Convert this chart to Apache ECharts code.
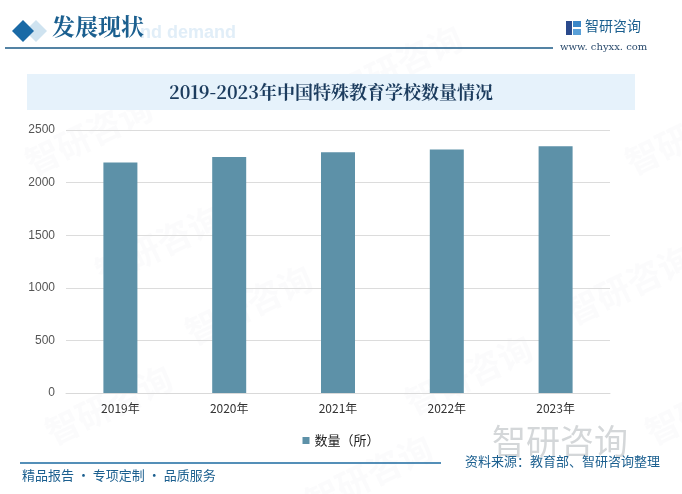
<!DOCTYPE html>
<html><head><meta charset="utf-8">
<script src="https://cdn.jsdelivr.net/npm/echarts@6/dist/echarts.min.js"></script>
<style>html,body{margin:0;padding:0;background:#fff}#c{width:682px;height:494px}</style>
</head><body><div id="c"></div>
<script>
const categories = ['2019年','2020年','2021年','2022年','2023年'];
const schoolCounts = [2192, 2244, 2288, 2314, 2345];
const seriesName = '数量（所）';
const chartTitle = '2019-2023年中国特殊教育学校数量情况';

const chart = echarts.init(document.getElementById('c'), null, {renderer:'canvas'});

const wm = [];
const wmPos = [[20,90],[330,20],[180,260],[400,330],[620,90],[40,360],[560,240],[300,430],[90,200],[640,360]];
wmPos.forEach(p=>{
  wm.push({type:'text', left:p[0], top:p[1], rotation:Math.PI/7, z:0, silent:true,
    style:{text:'智研咨询', font:'bold 34px "Noto Sans CJK SC"', fill:'rgba(200,210,220,0.08)'}});
});

chart.setOption({
  animation:false,
  backgroundColor:'#ffffff',
  graphic: wm.concat([
    // header diamonds
    {type:'polygon', shape:{points:[[25,31],[36,20],[47,31],[36,42]]}, style:{fill:'#cfe3f0'}},
    {type:'polygon', shape:{points:[[12,31],[23,20],[34,31],[23,42]]}, style:{fill:'#1a6aa6'}},
    {type:'text', left:140, top:24, style:{text:'nd demand', font:'bold 18px Arial', fill:'#e1eef8'}},
    {type:'text', left:52, top:15, style:{text:'发展现状', font:'bold 23px "Noto Serif CJK SC","Noto Sans CJK SC"', fill:'#1b5f8f'}},
    {type:'line', shape:{x1:5,y1:48,x2:553,y2:48}, style:{stroke:'#1b5a86', lineWidth:1.5}},
    // logo top right
    {type:'rect', shape:{x:566,y:21,width:6,height:14}, style:{fill:'#2a4a8c'}},
    {type:'rect', shape:{x:573,y:21,width:8,height:6}, style:{fill:'#3a86c8'}},
    {type:'rect', shape:{x:573,y:29,width:8,height:6}, style:{fill:'#5aa0d8'}},
    {type:'text', left:585, top:19, style:{text:'智研咨询', font:'14px "Noto Sans CJK SC"', fill:'#1b5f8f'}},
    {type:'text', left:560, top:42, style:{text:'www. chyxx. com', font:'10px "DejaVu Serif"', fill:'#2a4a6c'}},
    // title box
    {type:'rect', shape:{x:27,y:74,width:608,height:36}, style:{fill:'#e6f2fb'}},
    {type:'text', x:331, y:92, style:{text:chartTitle, font:'bold 18px "Noto Serif CJK SC","Noto Sans CJK SC"', fill:'#1c3c5e', align:'center', verticalAlign:'middle'}},
    // footer
    {type:'text', left:492, top:424, style:{text:'智研咨询', font:'34px "Noto Sans CJK SC"', fill:'rgba(170,175,180,0.5)'}},
    {type:'line', shape:{x1:20,y1:463,x2:441,y2:463}, style:{stroke:'#1b6aa0', lineWidth:1.5}},
    {type:'text', left:22, top:469, style:{text:'精品报告 · 专项定制 · 品质服务', font:'13px "Noto Sans CJK SC"', fill:'#1b5f8f'}},
    {type:'text', left:465, top:455, style:{text:'资料来源：教育部、智研咨询整理', font:'13px "Noto Sans CJK SC"', fill:'#1b5f8f'}}
  ]),
  legend:{
    data:[seriesName], left:'center', top:429, itemWidth:7, itemHeight:7, itemGap:4, icon:'rect',
    textStyle:{color:'#222', fontSize:13, fontFamily:'"Noto Sans CJK SC"'}
  },
  grid:{left:66, right:72, top:130, bottom:101, containLabel:false},
  xAxis:{
    type:'category', data:categories,
    axisLine:{lineStyle:{color:'#d9d9d9'}}, axisTick:{show:false},
    axisLabel:{color:'#333', fontSize:12, margin:9, fontFamily:'"Noto Sans CJK SC"'}
  },
  yAxis:{
    type:'value', min:0, max:2500, interval:500,
    axisLine:{show:false}, axisTick:{show:false},
    splitLine:{lineStyle:{color:'#dcdcdc'}},
    axisLabel:{color:'#555', fontSize:12, margin:11, formatter:function(v){return String(v);}}
  },
  series:[{
    name:seriesName, type:'bar', data:schoolCounts, barWidth:34,
    itemStyle:{color:'#5d91a8'}
  }]
});
</script></body></html>
